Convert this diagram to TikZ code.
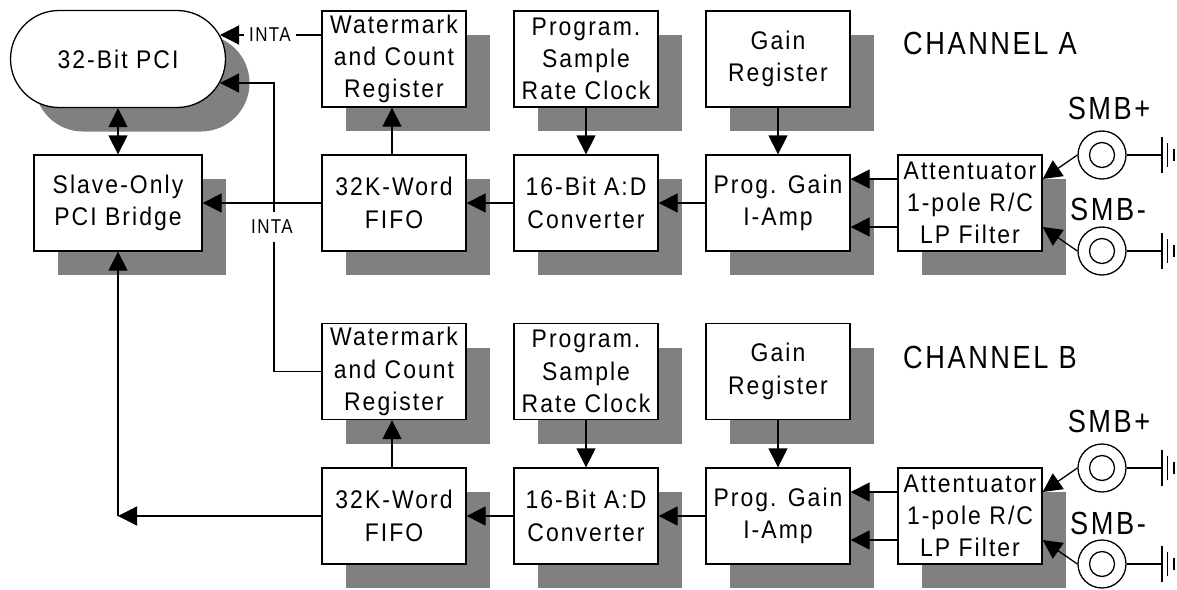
\documentclass[tikz,border=0pt]{standalone}
\usepackage{fontspec}
\setmainfont{Liberation Sans}
\newfontfamily\boxfam[FakeStretch=0.9,LetterSpace=8]{Liberation Sans}
\newfontfamily\intafam[FakeStretch=0.85,LetterSpace=7]{Liberation Sans}
\newfontfamily\chanfam[FakeStretch=0.85,LetterSpace=8]{Liberation Sans}
\usetikzlibrary{shapes.misc,shadows,arrows.meta}
\definecolor{shade}{HTML}{808080}
\tikzset{
  base/.style={font=\boxfam\fontsize{25.5}{32.3}\selectfont,align=center,inner sep=0pt,line width=1.3pt,draw=black,fill=white,
    copy shadow={shadow xshift=24pt,shadow yshift=-24pt,fill=shade,draw=none,line width=0pt}},
  blockbox/.style={base,rectangle,minimum width=144pt,minimum height=96pt},
  wire/.style={line width=1.3pt,draw=black},
  arr/.style={wire,-{Triangle[length=19pt,width=19pt]}},
  darr/.style={wire,{Triangle[length=19pt,width=19pt]}-{Triangle[length=19pt,width=19pt]}},
  inta/.style={font=\intafam\fontsize{20}{22}\selectfont,fill=white,inner xsep=5pt,inner ysep=0pt,minimum height=30pt},
  chan/.style={font=\chanfam\fontsize{32}{34}\selectfont,inner sep=0pt},
  outer/.style={circle,draw=black,line width=1.3pt,fill=white,minimum size=48pt,inner sep=0pt},
  inner/.style={circle,draw=black,line width=1.3pt,minimum size=25pt,inner sep=0pt},
}
\begin{document}
\begin{tikzpicture}[x=1pt,y=-1pt]
\useasboundingbox (0,0) rectangle (1177,589);
\fill[white] (0,0) rectangle (1177,589);
% top block
\node[base,rounded rectangle,rounded rectangle arc length=180,minimum width=215pt,minimum height=97pt] (pci) at (118,59) {32-Bit PCI};
\node[base,rectangle,minimum width=168pt,minimum height=96pt] (bridge) at (118,203) {Slave-Only\\PCI Bridge};
% channel A
\node[blockbox] (wmA) at (394,59) {Watermark\\and Count\\Register};
\node[blockbox] (clkA) at (586,59) {Program.\\Sample\\Rate Clock};
\node[blockbox] (gainA) at (778,59) {Gain\\Register};
\node[blockbox] (fifoA) at (394,203) {32K-Word\\FIFO};
\node[blockbox] (adcA) at (586,203) {16-Bit A:D\\Converter};
\node[blockbox] (ampA) at (778,203) {Prog. Gain\\I-Amp};
\node[blockbox] (attA) at (970,203) {Attentuator\\1-pole R/C\\LP Filter};
% channel B
\node[blockbox] (wmB) at (394,371.5) {Watermark\\and Count\\Register};
\node[blockbox] (clkB) at (586,371.5) {Program.\\Sample\\Rate Clock};
\node[blockbox] (gainB) at (778,371.5) {Gain\\Register};
\node[blockbox] (fifoB) at (394,516) {32K-Word\\FIFO};
\node[blockbox] (adcB) at (586,516) {16-Bit A:D\\Converter};
\node[blockbox] (ampB) at (778,516) {Prog. Gain\\I-Amp};
\node[blockbox] (attB) at (970,516) {Attentuator\\1-pole R/C\\LP Filter};
% connectors A
\coordinate (intaTurn) at (274,83);
\coordinate (intaLow) at (274,371.5);
\coordinate (joinB) at (118,516);
\coordinate (pciTop) at (220,35);
\coordinate (pciLow) at (220,83);
\draw[darr] (pci.south) -- (bridge.north);
\draw[arr] ([yshift=24pt]wmA.west) -- (pciTop);
\draw[arr] (wmB.west) -- (intaLow) -- (intaTurn) -- (pciLow);
\draw[arr] (fifoA.west) -- (bridge.east);
\draw[arr] ([xshift=-2pt]fifoA.north) -- ([xshift=-2pt]wmA.south);
\draw[arr] (clkA.south) -- (adcA.north);
\draw[arr] (gainA.south) -- (ampA.north);
\draw[arr] (adcA.west) -- (fifoA.east);
\draw[arr] (ampA.west) -- (adcA.east);
\draw[arr] ([yshift=24pt]attA.west) -- ([yshift=24pt]ampA.east);
\draw[arr] ([yshift=-24pt]attA.west) -- ([yshift=-24pt]ampA.east);
% connectors B
\draw[arr] (fifoB.west) -- (joinB);
\draw[arr] (joinB) -- (bridge.south);
\draw[arr] ([xshift=-2pt]fifoB.north) -- ([xshift=-2pt]wmB.south);
\draw[arr] (clkB.south) -- (adcB.north);
\draw[arr] (gainB.south) -- (ampB.north);
\draw[arr] (adcB.west) -- (fifoB.east);
\draw[arr] (ampB.west) -- (adcB.east);
\draw[arr] ([yshift=24pt]attB.west) -- ([yshift=24pt]ampB.east);
\draw[arr] ([yshift=-24pt]attB.west) -- ([yshift=-24pt]ampB.east);
% labels
\node[inta] (intaA) at (270,35) {INTA};
\node[inta] (intaV) at (272,227) {INTA};
\node[chan] (chA) at (990,43) {CHANNEL A};
\node[chan] (chB) at (990,357) {CHANNEL B};
% connectors SMB
\foreach \n/\yy in {Ap/155,Am/251,Bp/468,Bm/564}{
  \node[outer] (smb\n) at (1102,\yy) {};
  \node[inner] (core\n) at (smb\n) {};
  \coordinate (gnd\n) at (1162,\yy);
  \draw[wire] (smb\n.east) -- (gnd\n);
  \draw[wire] ([yshift=-18pt]gnd\n) -- ([yshift=18pt]gnd\n);
  \draw[line width=1.6pt] ([xshift=5.5pt,yshift=-12pt]gnd\n) -- ([xshift=5.5pt,yshift=12pt]gnd\n);
  \draw[wire] ([xshift=12pt,yshift=-6pt]gnd\n) -- ([xshift=12pt,yshift=6pt]gnd\n);
}
\draw[arr] (smbAp.west) -- ([yshift=24pt]attA.east);
\draw[arr] (smbAm.west) -- ([yshift=-24pt]attA.east);
\draw[arr] (smbBp.west) -- ([yshift=24pt]attB.east);
\draw[arr] (smbBm.west) -- ([yshift=-24pt]attB.east);
\node[chan] (lApl) at (1109,108) {SMB+};
\node[chan] (lAml) at (1108,209) {SMB-};
\node[chan] (lBpl) at (1109,421) {SMB+};
\node[chan] (lBml) at (1108,523) {SMB-};
\end{tikzpicture}
\end{document}
